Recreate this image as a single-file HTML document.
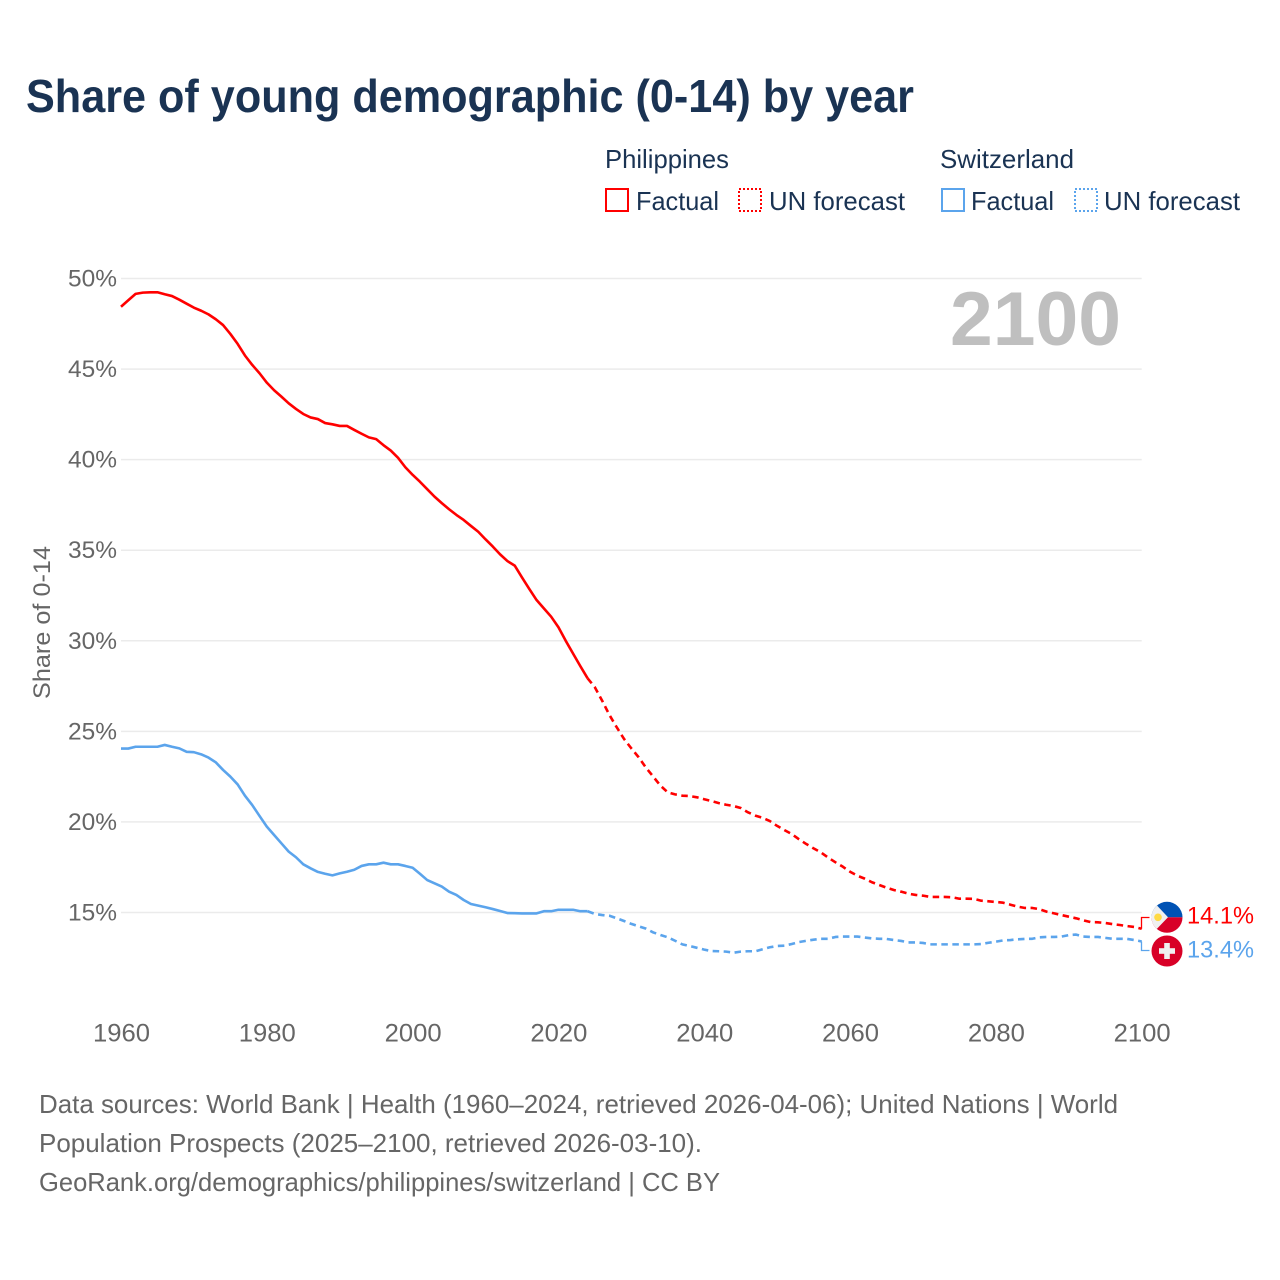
<!DOCTYPE html>
<html lang="en">
<head>
<meta charset="utf-8">
<title>Share of young demographic (0-14) by year</title>
<style>
html,body{margin:0;padding:0;background:#fff;}
svg{display:block;font-family:"Liberation Sans",sans-serif;}
</style>
</head>
<body>
<svg id="chart" xmlns="http://www.w3.org/2000/svg" width="1280" height="1280" viewBox="0 0 1280 1280">
  <rect width="1280" height="1280" fill="#ffffff"/>
  <text x="26" y="112" font-size="46" font-weight="700" fill="#1a3353" textLength="888" lengthAdjust="spacingAndGlyphs">Share of young demographic (0-14) by year</text>

  <g>
    <text x="605" y="168" font-size="26" fill="#1a3353" textLength="124" lengthAdjust="spacingAndGlyphs">Philippines</text>
    <rect x="606" y="189" width="22" height="22" fill="none" stroke="#ff0000" stroke-width="2"/>
    <text x="636" y="210" font-size="26" fill="#1a3353" textLength="83" lengthAdjust="spacingAndGlyphs">Factual</text>
    <rect x="739" y="189" width="22" height="22" fill="none" stroke="#ff0000" stroke-width="2" stroke-dasharray="2 2"/>
    <text x="769" y="210" font-size="26" fill="#1a3353" textLength="136" lengthAdjust="spacingAndGlyphs">UN forecast</text>

    <text x="940" y="168" font-size="26" fill="#1a3353" textLength="134" lengthAdjust="spacingAndGlyphs">Switzerland</text>
    <rect x="942" y="189" width="22" height="22" fill="none" stroke="#5ba4ec" stroke-width="2"/>
    <text x="971" y="210" font-size="26" fill="#1a3353" textLength="83" lengthAdjust="spacingAndGlyphs">Factual</text>
    <rect x="1075" y="189" width="22" height="22" fill="none" stroke="#5ba4ec" stroke-width="2" stroke-dasharray="2 2"/>
    <text x="1104" y="210" font-size="26" fill="#1a3353" textLength="136" lengthAdjust="spacingAndGlyphs">UN forecast</text>
  </g>

  <g id="grid"></g>
  <text x="950" y="345" font-size="76" font-weight="700" fill="#bfbfbf" textLength="171" lengthAdjust="spacingAndGlyphs">2100</text>
  <g id="yticks"></g>
  <g id="xticks"></g>
  <text transform="translate(50,622.5) rotate(-90)" text-anchor="middle" font-size="24" fill="#666666" textLength="153" lengthAdjust="spacingAndGlyphs">Share of 0-14</text>
  <g id="series"></g>

  <g id="end-markers">
    <defs>
      <clipPath id="ph-clip"><circle cx="1167" cy="917.3" r="15.5"/></clipPath>
    </defs>
    <g clip-path="url(#ph-clip)">
      <rect x="1150" y="901" width="34" height="16.3" fill="#0052b4"/>
      <rect x="1150" y="917.3" width="34" height="17" fill="#d80027"/>
      <polygon points="1150,898 1168,917.3 1150,936" fill="#f0f0f0"/>
      <circle cx="1158" cy="917.3" r="3.8" fill="#ffda44"/>
    </g>
    <g>
      <circle cx="1167" cy="951" r="15.5" fill="#d80027"/>
      <rect x="1159" y="948.2" width="16" height="5.6" fill="#f0f0f0"/>
      <rect x="1164.2" y="943" width="5.6" height="16" fill="#f0f0f0"/>
    </g>
  </g>

  <g font-size="26" fill="#666666">
    <text x="39" y="1113" textLength="1079" lengthAdjust="spacingAndGlyphs">Data sources: World Bank | Health (1960–2024, retrieved 2026-04-06); United Nations | World</text>
    <text x="39" y="1152" textLength="663" lengthAdjust="spacingAndGlyphs">Population Prospects (2025–2100, retrieved 2026-03-10).</text>
    <text x="39" y="1191" textLength="681" lengthAdjust="spacingAndGlyphs">GeoRank.org/demographics/philippines/switzerland | CC BY</text>
  </g>
</svg>
<script>
const yTickValues = [15, 20, 25, 30, 35, 40, 45, 50];
const xTickYears = [1960, 1980, 2000, 2020, 2040, 2060, 2080, 2100];
const factualStartYear = 1960;
const forecastStartYear = 2024;

const philippinesFactual = [48.44,48.8,49.15,49.22,49.24,49.24,49.13,49.03,48.83,48.61,48.39,48.22,48.02,47.75,47.43,46.94,46.39,45.75,45.23,44.77,44.25,43.83,43.48,43.11,42.8,42.52,42.33,42.24,42.02,41.95,41.86,41.86,41.64,41.43,41.23,41.13,40.8,40.5,40.1,39.58,39.16,38.78,38.37,37.96,37.6,37.26,36.95,36.67,36.34,36.02,35.6,35.2,34.77,34.4,34.15,33.5,32.86,32.25,31.79,31.33,30.75,30.0,29.3,28.6,27.93];
const philippinesForecast = [27.93,27.43,26.69,25.9,25.22,24.58,24.06,23.57,23.0,22.5,22.0,21.63,21.52,21.45,21.43,21.36,21.25,21.15,21.04,20.95,20.88,20.77,20.53,20.35,20.23,20.05,19.78,19.55,19.33,19.04,18.78,18.54,18.32,18.03,17.77,17.53,17.25,17.03,16.87,16.67,16.52,16.37,16.24,16.15,16.04,15.97,15.93,15.86,15.86,15.86,15.84,15.76,15.76,15.75,15.65,15.62,15.58,15.54,15.43,15.32,15.25,15.25,15.18,15.04,14.95,14.86,14.77,14.68,14.57,14.47,14.46,14.42,14.36,14.31,14.25,14.2,14.1];
const switzerlandFactual = [24.05,24.05,24.15,24.15,24.15,24.15,24.25,24.15,24.06,23.87,23.85,23.73,23.55,23.29,22.87,22.5,22.07,21.45,20.93,20.33,19.74,19.28,18.82,18.36,18.05,17.66,17.44,17.24,17.14,17.05,17.16,17.25,17.36,17.57,17.66,17.66,17.75,17.66,17.66,17.57,17.47,17.14,16.79,16.61,16.43,16.15,15.97,15.69,15.47,15.38,15.29,15.19,15.08,14.97,14.96,14.95,14.95,14.95,15.07,15.07,15.15,15.15,15.15,15.07,15.07];
const switzerlandForecast = [15.07,14.92,14.86,14.82,14.68,14.53,14.37,14.24,14.11,13.9,13.76,13.63,13.44,13.24,13.15,13.05,12.95,12.87,12.86,12.84,12.78,12.84,12.86,12.86,12.97,13.08,13.15,13.17,13.26,13.37,13.44,13.5,13.55,13.55,13.65,13.67,13.67,13.67,13.62,13.57,13.55,13.54,13.48,13.43,13.35,13.35,13.32,13.24,13.24,13.24,13.24,13.24,13.24,13.24,13.26,13.33,13.39,13.46,13.48,13.52,13.54,13.55,13.63,13.65,13.65,13.67,13.75,13.78,13.67,13.65,13.65,13.6,13.55,13.55,13.54,13.48,13.4];
const endLabelValues = [14.1, 13.4];

const NS = 'http://www.w3.org/2000/svg';
function xScale(year) { return 121 + (year - 1960) * (1020.7 / 140); }
function yScale(value) { return 912.5 - (value - 15) * (634 / 35); }

function makeEl(tag, attrs, parent) {
  const el = document.createElementNS(NS, tag);
  for (const key in attrs) el.setAttribute(key, attrs[key]);
  parent.appendChild(el);
  return el;
}

const gridGroup = document.getElementById('grid');
const yTickGroup = document.getElementById('yticks');
yTickValues.forEach(function (v) {
  const line = makeEl('line', { x1: 121, x2: 1141.7, y1: yScale(v), y2: yScale(v), stroke: '#ebebeb', 'stroke-width': 1.5 }, gridGroup);
  
  
  const label = makeEl('text', { x: 117, y: yScale(v) + 8, 'text-anchor': 'end', 'font-size': 24, fill: '#666666', textLength: 49, lengthAdjust: 'spacingAndGlyphs' }, yTickGroup);
  label.textContent = v + '%';
  
  
});

const xTickGroup = document.getElementById('xticks');
xTickYears.forEach(function (yr) {
  const label = makeEl('text', { x: xScale(yr) + 0.5, y: 1041.5, 'text-anchor': 'middle', 'font-size': 25, fill: '#666666', textLength: 57, lengthAdjust: 'spacingAndGlyphs' }, xTickGroup);
  label.textContent = String(yr);
  
  
});

function pathFrom(values, startYear) {
  return values.map(function (v, i) {
    return (i ? 'L' : 'M') + xScale(startYear + i).toFixed(2) + ' ' + yScale(v).toFixed(2);
  }).join(' ');
}

const seriesGroup = document.getElementById('series');
function drawSeries(values, startYear, color, dashed, name) {
  const attrs = { d: pathFrom(values, startYear), fill: 'none', stroke: color, 'stroke-width': 2.6, 'stroke-linejoin': 'round' };
  if (dashed) attrs['stroke-dasharray'] = '6.5 4.5';
  const path = makeEl('path', attrs, seriesGroup);
  
  
}
drawSeries(philippinesForecast, forecastStartYear, '#ff0000', true, 'line-philippines-forecast');
drawSeries(switzerlandForecast, forecastStartYear, '#5ba4ec', true, 'line-switzerland-forecast');
drawSeries(philippinesFactual, factualStartYear, '#ff0000', false, 'line-philippines-factual');
drawSeries(switzerlandFactual, factualStartYear, '#5ba4ec', false, 'line-switzerland-factual');

const markers = document.getElementById('end-markers');
const phEndY = yScale(philippinesForecast[philippinesForecast.length - 1]);
const chEndY = yScale(switzerlandForecast[switzerlandForecast.length - 1]);
const phConnector = makeEl('path', { d: 'M1141.5 ' + phEndY + ' V917.5 H1149.5', fill: 'none', stroke: '#ff0000', 'stroke-width': 1.3 }, markers);


const chConnector = makeEl('path', { d: 'M1141.5 ' + chEndY + ' V950.5 H1149.5', fill: 'none', stroke: '#5ba4ec', 'stroke-width': 1.3 }, markers);



const phLabel = makeEl('text', { x: 1187, y: 923.5, 'font-size': 24, fill: '#ff0000', textLength: 67, lengthAdjust: 'spacingAndGlyphs' }, markers);
phLabel.textContent = endLabelValues[0].toFixed(1) + '%';


const chLabel = makeEl('text', { x: 1187, y: 957.5, 'font-size': 24, fill: '#5ba4ec', textLength: 67, lengthAdjust: 'spacingAndGlyphs' }, markers);
chLabel.textContent = endLabelValues[1].toFixed(1) + '%';


</script>
</body>
</html>
